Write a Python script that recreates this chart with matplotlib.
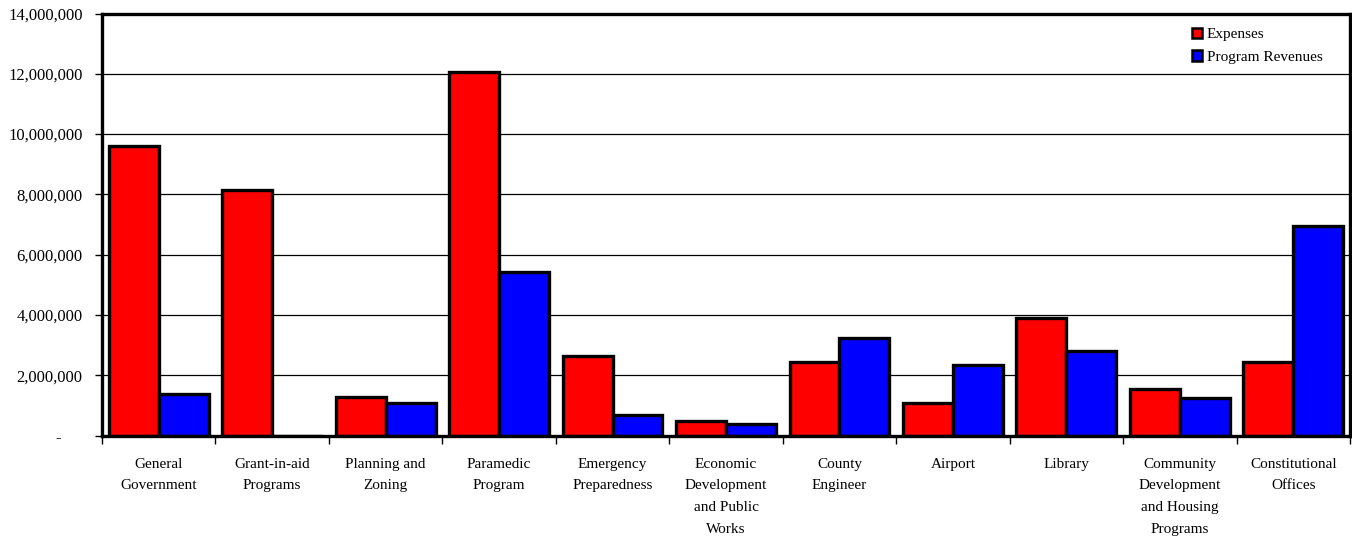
import matplotlib.pyplot as plt
import numpy as np
from matplotlib.patches import Rectangle
from matplotlib.ticker import FuncFormatter, FixedLocator

categories = ["General\nGovernment", "Grant-in-aid\nPrograms", "Planning and\nZoning",
              "Paramedic\nProgram", "Emergency\nPreparedness",
              "Economic\nDevelopment\nand Public\nWorks", "County\nEngineer", "Airport",
              "Library", "Community\nDevelopment\nand Housing\nPrograms",
              "Constitutional\nOffices"]
expenses = [9610000, 8140000, 1270000, 12060000, 2640000, 480000,
            2450000, 1070000, 3910000, 1540000, 2430000]
revenues = [1370000, 0, 1070000, 5410000, 670000, 380000,
            3220000, 2340000, 2810000, 1250000, 6950000]

plt.rcParams['font.family'] = ['Liberation Serif', 'DejaVu Serif']

fig = plt.figure(figsize=(13.52, 5.39), dpi=100)
ax = fig.add_axes([102 / 1352, 1 - 435.5 / 539, 1248 / 1352, 422 / 539])

x = np.arange(len(categories))
w = 0.44
ax.bar(x - w / 2, expenses, w, color='#ff0000', edgecolor='black', linewidth=2.4,
       label='Expenses', zorder=3)
ax.bar(x + w / 2, revenues, w, color='#0000ff', edgecolor='black', linewidth=2.4,
       label='Program Revenues', zorder=3)

ax.set_xlim(-0.5, len(categories) - 0.5)
ax.set_ylim(0, 14000000)
ax.set_yticks(np.arange(0, 14000001, 2000000))
ax.yaxis.set_major_formatter(FuncFormatter(lambda v, p: '-     ' if v == 0 else f'{v:,.0f}'))
ax.grid(axis='y', color='black', linewidth=0.9, zorder=0)

# category labels centered, ticks on the boundaries between groups
ax.set_xticks(x)
ax.set_xticklabels(categories, fontsize=11, linespacing=1.86)
ax.tick_params(axis='x', which='major', length=0, pad=16)
ax.xaxis.set_minor_locator(FixedLocator(np.arange(-0.5, len(categories), 1)))
ax.tick_params(axis='x', which='minor', length=6, width=1)
ax.tick_params(axis='y', labelsize=12, length=5, width=1, pad=9)

for s in ax.spines.values():
    s.set_linewidth(2.4)
    s.set_zorder(4)

# white area behind the legend hides the gridlines there
ax.add_patch(Rectangle((0.8566, 0.845), 0.1394, 0.155, transform=ax.transAxes,
                       facecolor='white', edgecolor='none', zorder=1))

leg = ax.legend(loc='upper left', bbox_to_anchor=(0.8734, 0.966), frameon=False,
                fontsize=11, handlelength=0.65, handleheight=0.65,
                handletextpad=0.3, borderpad=0, labelspacing=0.6, borderaxespad=0)
for h in leg.legend_handles:
    h.set_linewidth(1.8)

fig.savefig('out.png', dpi=100)
